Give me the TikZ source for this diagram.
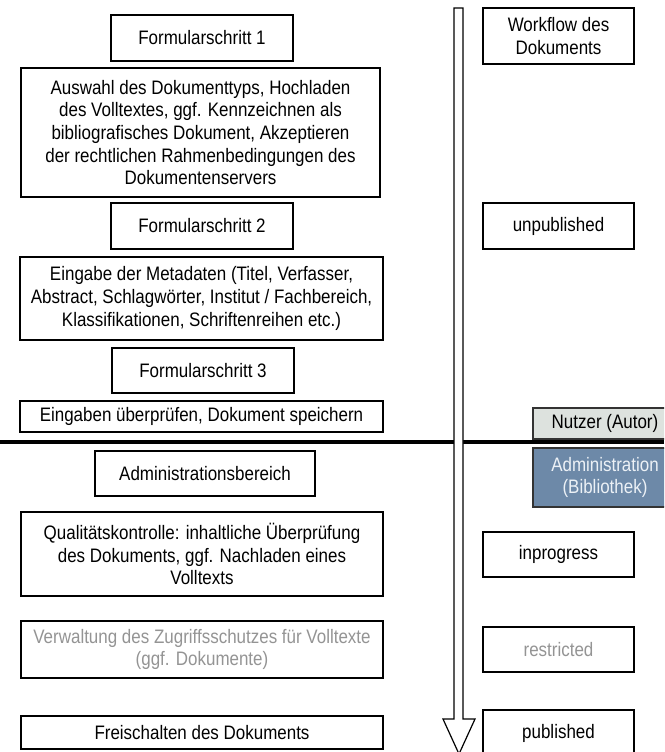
\documentclass[tikz,border=0pt]{standalone}
\usepackage{fontspec}
\setmainfont[FakeStretch=0.87]{Liberation Sans}
\begin{document}
\begin{tikzpicture}[x=1pt,y=-1pt,
  every node/.style={font=\fontsize{19.5}{22.6}\selectfont, align=center, inner sep=0pt},
  stepbox/.style={draw=black, line width=1.6pt, fill=white, rectangle},
  grey/.style={text=black!42},
  role/.style={draw=black!80, line width=1.2pt, rectangle}]
\useasboundingbox (0,0) rectangle (664,752);
\begin{scope}
\clip (0,0) rectangle (664,752);

% left column: form steps of the submission
\node[stepbox, minimum width=182, minimum height=46] (f1) at (202,38) {Formularschritt 1};
\node[stepbox, minimum width=359, minimum height=129] (auswahl) at (200.5,132.5)
  {Auswahl des Dokumenttyps, Hochladen\\des Volltextes, ggf. Kennzeichnen als\\bibliografisches Dokument, Akzeptieren\\der rechtlichen Rahmenbedingungen des\\Dokumentenservers};
\node[stepbox, minimum width=182, minimum height=46] (f2) at (202,226) {Formularschritt 2};
\node[stepbox, minimum width=363, minimum height=83] (meta) at (201.5,298.5)
  {Eingabe der Metadaten (Titel, Verfasser,\\Abstract, Schlagwörter, Institut / Fachbereich,\\Klassifikationen, Schriftenreihen etc.)};
\node[stepbox, minimum width=182, minimum height=45] (f3) at (203,370.5) {Formularschritt 3};
\node[stepbox, minimum width=363, minimum height=31] (pruefen) at (201.5,416.5)
  {Eingaben überprüfen, Dokument speichern};

% administration part
\node[stepbox, minimum width=220, minimum height=45] (adminb) at (205,473.5) {Administrationsbereich};
\node[stepbox, minimum width=362, minimum height=84] (quali) at (202,554)
  {Qualitätskontrolle: inhaltliche Überprüfung\\des Dokuments, ggf. Nachladen eines\\Volltexts};
\node[stepbox, grey, minimum width=362, minimum height=57] (zugriff) at (202,649.5)
  {Verwaltung des Zugriffsschutzes für Volltexte\\(ggf. Dokumente)};
\node[stepbox, minimum width=362, minimum height=33] (frei) at (202,732.5)
  {Freischalten des Dokuments};

% separator between author and library
\coordinate (sepL) at (0,442);
\coordinate (sepR) at (664,442);
\draw[line width=4pt] (sepL) -- (sepR);

% workflow arrow
\draw[line width=1.2pt, fill=white, line join=miter]
  (454,8) -- (463,8) -- (463,719) -- (475,719) -- (459,754) -- (443,719) -- (454,719) -- cycle;

% document states
\node[stepbox, minimum width=151, minimum height=56] (wf) at (558.5,36) {Workflow des\\Dokuments};
\node[stepbox, minimum width=151, minimum height=46] (unpub) at (558.5,226) {unpublished};
\node[stepbox, minimum width=151, minimum height=45] (inprog) at (558.5,554.5) {inprogress};
\node[stepbox, grey, minimum width=151, minimum height=45] (restr) at (558.5,649.5) {restricted};
\node[stepbox, minimum width=151, minimum height=46] (pub) at (558.5,733) {published};

% roles
\node[role, fill={rgb,255:red,221;green,226;blue,222}, minimum width=144, minimum height=31] (nutzer) at (605,423.5) {Nutzer (Autor)};
\node[role, fill={rgb,255:red,109;green,137;blue,168}, text={rgb,255:red,236;green,241;blue,246}, minimum width=144, minimum height=59] (admin) at (605,477.5) {Administration\\(Bibliothek)};
\end{scope}
\end{tikzpicture}
\end{document}
